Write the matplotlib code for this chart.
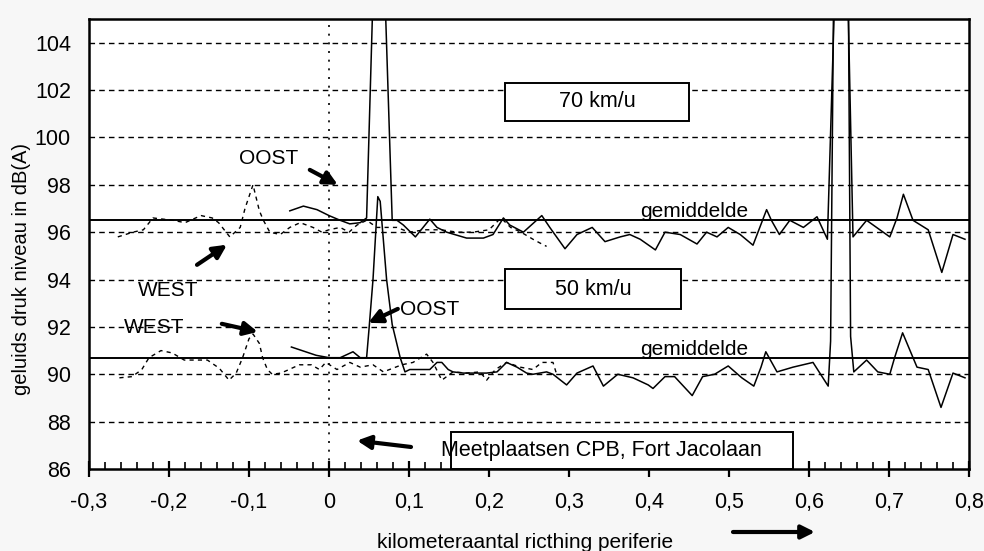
import matplotlib
matplotlib.use("Agg")
import matplotlib.pyplot as plt
from matplotlib.patches import Rectangle
from matplotlib.ticker import MultipleLocator, FixedLocator, FixedFormatter

plt.rcParams['font.family'] = ['Liberation Sans', 'DejaVu Sans']

# --- data ---
# 70 km/u, OOST (solid)
x_oost70 = [-0.049, -0.032, -0.015, 0.0, 0.014, 0.026, 0.039, 0.047, 0.055, 0.070, 0.079,
            0.085, 0.093, 0.108, 0.126, 0.135, 0.147, 0.172, 0.193, 0.205, 0.218, 0.226,
            0.243, 0.266, 0.276, 0.295, 0.31, 0.329, 0.345, 0.364, 0.376, 0.389, 0.408,
            0.42, 0.439, 0.46, 0.472, 0.485, 0.499, 0.514, 0.53, 0.547, 0.553, 0.563,
            0.576, 0.593, 0.61, 0.623, 0.633, 0.648, 0.655, 0.672, 0.701, 0.71, 0.718,
            0.73, 0.749, 0.766, 0.78, 0.795]
y_oost70 = [96.9, 97.1, 96.95, 96.7, 96.5, 96.35, 96.4, 96.6, 106.0, 106.0, 96.5,
            96.5, 96.3, 95.8, 96.55, 96.2, 96.0, 95.75, 95.75, 95.9, 96.6, 96.3,
            96.0, 96.7, 96.2, 95.3, 95.9, 96.2, 95.6, 95.8, 95.9, 95.7, 95.25,
            96.0, 95.9, 95.5, 96.0, 95.8, 96.2, 95.9, 95.45, 96.95, 96.5, 95.9,
            96.5, 96.2, 96.65, 95.7, 107.0, 107.0, 95.8, 96.5, 95.8, 96.6, 97.6,
            96.5, 96.1, 94.3, 95.9, 95.7]

# 70 km/u, WEST (dashed)
x_west70 = [-0.264, -0.245, -0.232, -0.22, -0.195, -0.18, -0.16, -0.146, -0.138, -0.124,
            -0.111, -0.105, -0.095, -0.087, -0.082, -0.074, -0.061, -0.049, -0.036, -0.02,
            -0.009, 0.0, 0.014, 0.025, 0.035, 0.047, 0.06, 0.085, 0.1, 0.12, 0.14, 0.16,
            0.18, 0.2, 0.215, 0.227, 0.24, 0.255, 0.266, 0.272]
y_west70 = [95.8, 96.0, 96.1, 96.6, 96.5, 96.4, 96.7, 96.6, 96.4, 95.8,
            96.2, 97.0, 98.0, 96.9, 96.5, 96.0, 95.9, 96.2, 96.4, 96.2,
            96.0, 96.1, 96.2, 96.0, 96.3, 96.5, 96.2, 96.2, 96.0, 96.1, 96.1, 96.0,
            96.0, 96.1, 96.6, 96.2, 96.0, 95.7, 95.5, 95.4]

# 50 km/u, OOST (solid)
x_oost50 = [-0.047, -0.016, 0.0, 0.014, 0.03, 0.039, 0.047, 0.05, 0.055, 0.061, 0.064,
            0.072, 0.079, 0.089, 0.095, 0.101, 0.126, 0.135, 0.141, 0.149, 0.155, 0.168,
            0.197, 0.21, 0.222, 0.235, 0.247, 0.255, 0.272, 0.28, 0.297, 0.31, 0.33,
            0.343, 0.361, 0.38, 0.399, 0.405, 0.42, 0.432, 0.454, 0.467, 0.482, 0.499,
            0.516, 0.531, 0.54, 0.546, 0.56, 0.58, 0.605, 0.624, 0.627, 0.631, 0.649,
            0.652, 0.656, 0.672, 0.686, 0.701, 0.707, 0.717, 0.735, 0.749, 0.765, 0.78,
            0.795]
y_oost50 = [91.15, 90.8, 90.7, 90.7, 90.95, 90.7, 90.7, 91.9, 94.0, 97.5, 97.3,
            94.0, 92.1, 90.7, 90.1, 90.2, 90.2, 90.5, 90.5, 90.2, 90.1, 90.05,
            90.05, 90.1, 90.5, 90.3, 90.05, 90.0, 90.1, 90.0, 89.55, 90.05, 90.35,
            89.5, 90.0, 89.85, 89.55, 89.4, 89.9, 89.9, 89.1, 89.9, 90.0, 90.35,
            89.85, 89.5, 90.3, 90.95, 90.1, 90.3, 90.5, 89.5, 91.4, 107.0, 107.0,
            91.6, 90.1, 90.6, 90.1, 90.0, 90.7, 91.75, 90.3, 90.2, 88.6, 90.05,
            89.85]

# 50 km/u, WEST (dashed)
x_west50 = [-0.262, -0.246, -0.234, -0.225, -0.21, -0.196, -0.181, -0.152, -0.137, -0.125,
            -0.116, -0.108, -0.1, -0.095, -0.087, -0.083, -0.077, -0.071, -0.06, -0.05,
            -0.037, -0.022, -0.012, -0.004, 0.01, 0.026, 0.039, 0.055, 0.068, 0.091,
            0.105, 0.122, 0.13, 0.141, 0.155, 0.172, 0.189, 0.197, 0.208, 0.222, 0.239,
            0.255, 0.266, 0.28, 0.285]
y_west50 = [89.85, 89.9, 90.2, 90.7, 91.0, 90.9, 90.6, 90.6, 90.25, 89.75,
            90.05, 90.7, 91.5, 91.7, 91.3, 90.7, 90.2, 90.0, 90.05, 90.2,
            90.4, 90.4, 90.2, 90.5, 90.2, 90.5, 90.3, 90.4, 90.1, 90.4,
            90.5, 90.85, 90.5, 89.75, 90.1, 90.05, 90.1, 89.75, 90.2, 90.5, 90.3,
            90.2, 90.5, 90.5, 89.95]

mean70 = 96.5
mean50 = 90.7

x_ticks = [-0.3, -0.2, -0.1, 0.0, 0.1, 0.2, 0.3, 0.4, 0.5, 0.6, 0.7, 0.8]
x_ticklabels = ['-0,3', '-0,2', '-0,1', '0', '0,1', '0,2', '0,3', '0,4', '0,5', '0,6', '0,7', '0,8']
y_ticks = [86, 88, 90, 92, 94, 96, 98, 100, 102, 104]

# --- figure ---
fig = plt.figure(figsize=(9.84, 5.51), dpi=100, facecolor='#f7f7f7')
ax = fig.add_axes([89 / 984, 1 - 469 / 551, 880 / 984, 450 / 551])
ax.set_facecolor('white')

# grid + zero line
for yv in y_ticks[1:]:
    ax.axhline(yv, color='black', lw=1.0, ls=(0, (4, 3)), zorder=1)
ax.axvline(0, color='black', lw=1.2, ls=(0, (1.2, 4)), zorder=1)

# series
ax.plot(x_west70, y_west70, color='black', lw=1.0, ls=(0, (3, 3)), zorder=3)
ax.plot(x_oost70, y_oost70, color='black', lw=1.1, zorder=4)
ax.plot(x_west50, y_west50, color='black', lw=1.0, ls=(0, (3, 3)), zorder=3)
ax.plot(x_oost50, y_oost50, color='black', lw=1.1, zorder=4)

# averages
ax.axhline(mean70, color='black', lw=1.4, zorder=2)
ax.axhline(mean50, color='black', lw=1.4, zorder=2)

ax.set_xlim(-0.3, 0.8)
ax.set_ylim(86, 105)

ax.xaxis.set_major_locator(FixedLocator(x_ticks))
ax.xaxis.set_major_formatter(FixedFormatter(x_ticklabels))
ax.xaxis.set_minor_locator(MultipleLocator(0.02))
ax.set_yticks(y_ticks)
ax.set_yticklabels([str(v) for v in y_ticks])

ax.tick_params(axis='x', which='major', direction='inout', length=11, width=1.6,
               labelsize=15.5, pad=11)
ax.tick_params(axis='x', which='minor', direction='in', length=5, width=1.2)
ax.tick_params(axis='y', which='both', length=0, labelsize=15.5, pad=13)
for s in ax.spines.values():
    s.set_linewidth(1.8)

ax.set_xlabel('kilometeraantal ricthing periferie', fontsize=15)
ax.xaxis.set_label_coords((525 - 89) / 880, -(533 - 469) / 450)
ax.xaxis.label.set_va('top')
ax.set_ylabel('geluids druk niveau in dB(A)', fontsize=14.5)
ax.yaxis.set_label_coords((22 - 89) / 880, (469 - 269) / 450)
ax.yaxis.label.set_va('center')

# boxes with text
box_kw = dict(fill=True, facecolor='white', edgecolor='black', lw=1.4, zorder=5)
ax.add_patch(Rectangle((0.22, 100.70), 0.23, 1.61, **box_kw))
ax.text(0.335, 101.5, '70 km/u', ha='center', va='center', fontsize=15.5, zorder=6)
ax.add_patch(Rectangle((0.22, 92.76), 0.22, 1.69, **box_kw))
ax.text(0.33, 93.6, '50 km/u', ha='center', va='center', fontsize=15.5, zorder=6)
ax.add_patch(Rectangle((0.1525, 86.0), 0.4275, 1.57, **box_kw))
ax.text(0.34, 86.8, 'Meetplaatsen CPB, Fort Jacolaan', ha='center', va='center',
        fontsize=15.5, zorder=6)

# labels
ax.text(0.456, mean70 + 0.12, 'gemiddelde', ha='center', va='baseline', fontsize=15, zorder=6)
ax.text(0.456, mean50 + 0.12, 'gemiddelde', ha='center', va='baseline', fontsize=15, zorder=6)
ax.text(-0.076, 99.1, 'OOST', ha='center', va='center', fontsize=15, zorder=6)
ax.text(-0.201, 93.52, 'WEST', ha='center', va='center', fontsize=15, zorder=6)
ax.text(-0.219, 91.96, 'WEST', ha='center', va='center', fontsize=15, zorder=6)
ax.text(0.126, 92.72, 'OOST', ha='center', va='center', fontsize=15, zorder=6)

# arrows
arrow_kw = dict(arrowstyle='-|>', color='black', lw=3, mutation_scale=20,
                shrinkA=0, shrinkB=0)
ax.annotate('', xy=(0.011, 98.0), xytext=(-0.024, 98.63), arrowprops=arrow_kw, zorder=7)
ax.annotate('', xy=(-0.1275, 95.47), xytext=(-0.165, 94.62), arrowprops=arrow_kw, zorder=7)
ax.annotate('', xy=(-0.089, 91.79), xytext=(-0.134, 92.13), arrowprops=arrow_kw, zorder=7)
ax.annotate('', xy=(0.049, 92.17), xytext=(0.086, 92.76), arrowprops=arrow_kw, zorder=7)
ax.annotate('', xy=(0.035, 87.2), xytext=(0.1025, 86.93), arrowprops=arrow_kw, zorder=7)
ax.annotate('', xy=(815 / 984, 1 - 532 / 551), xytext=(733 / 984, 1 - 532 / 551),
            xycoords='figure fraction', textcoords='figure fraction',
            arrowprops=arrow_kw)

fig.savefig('out.png', dpi=100, facecolor=fig.get_facecolor())
